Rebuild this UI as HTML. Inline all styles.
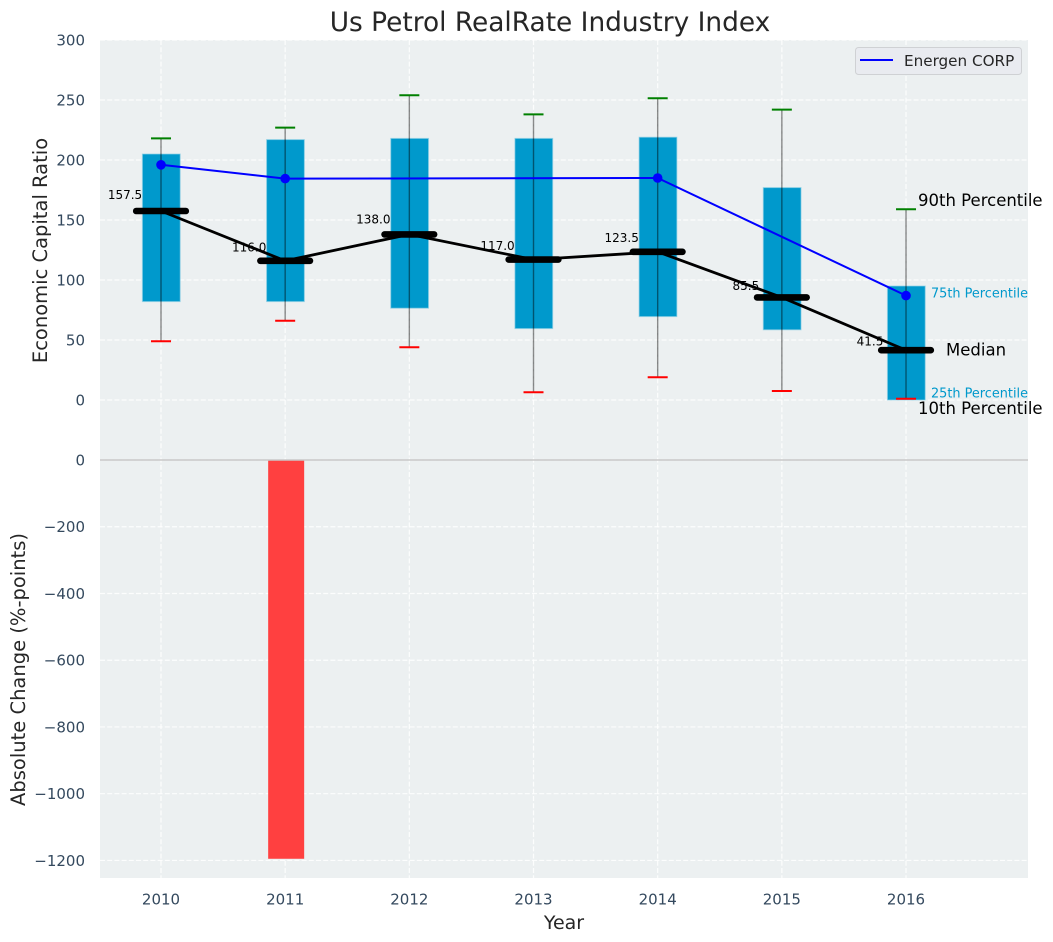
<!DOCTYPE html>
<html lang="en">
<head>
<meta charset="utf-8">
<title>Us Petrol RealRate Industry Index</title>
<style>
html,body{margin:0;padding:0;background:#fff;}
svg{display:block;font-family:"DejaVu Sans","Liberation Sans",sans-serif;}
</style>
</head>
<body>
<svg id="chart" xmlns="http://www.w3.org/2000/svg" width="1053" height="942" viewBox="0 0 1053 942">
  <rect x="100" y="40" width="928" height="838" fill="#ecf0f1"/>
  <g id="grid"></g>
  <g id="changes"></g>
  <line x1="100" x2="1028" y1="460" y2="460" stroke="#c8c8c8" stroke-width="1.5"/>
  <g id="boxes"></g>
  <g id="labels"></g>
  <g id="lines"></g>
  <g id="ticks"></g>
  <g id="notes"></g>
  <text x="550" y="31" text-anchor="middle" font-size="26.4" fill="#262626">Us Petrol RealRate Industry Index</text>
  <text x="564" y="929" text-anchor="middle" font-size="19" fill="#262626">Year</text>
  <text transform="translate(47,250.5) rotate(-90)" text-anchor="middle" font-size="19.5" fill="#262626">Economic Capital Ratio</text>
  <text transform="translate(25,669.5) rotate(-90)" text-anchor="middle" font-size="19.5" fill="#262626">Absolute Change (%-points)</text>
  <g>
    <rect x="855.5" y="47.5" width="166" height="27" rx="3" fill="#e9ebf0" stroke="#cfd1d4" stroke-width="1"/>
    <line x1="860" x2="893" y1="60" y2="60" stroke="#0000ff" stroke-width="2"/>
    <text x="904" y="66" font-size="15.2" fill="#262626">Energen CORP</text>
  </g>
</svg>
<script>
const years = [2010, 2011, 2012, 2013, 2014, 2015, 2016];
const p90 = [218, 227, 254, 238, 251.5, 242, 159];
const p75 = [205, 217, 218, 218, 219, 177, 95];
const medians = [157.5, 116, 138, 117, 123.5, 85.5, 41.5];
const p25 = [82, 82, 76.5, 59.5, 69.5, 58.5, 0];
const p10 = [49, 66, 44, 6.5, 19, 7.5, 1];
const energen = [196, 184.5, null, null, 185, null, 87];
const changes = [0, -1195, 0, 0, 0, 0, 0];
const topTicks = [0, 50, 100, 150, 200, 250, 300];
const bottomTicks = [0, -200, -400, -600, -800, -1000, -1200];

const x = function (year) { return 161 + (year - 2010) * 124.17; };
const yTop = function (v) { return 400 - v * 1.2; };
const yBottom = function (v) { return 460 - v * 0.3337; };
const NS = 'http://www.w3.org/2000/svg';

function make(parentId, tag, attrs, text) {
  const el = document.createElementNS(NS, tag);
  for (const k in attrs) el.setAttribute(k, attrs[k]);
  if (text !== undefined) el.textContent = text;
  document.getElementById(parentId).appendChild(el);
  return el;
}
function fmt(v) {
  return String(v).replace('-', '\u2212');
}
let el;

// grid
years.forEach(function (yr) {
  el = make('grid', 'line', { x1: x(yr), x2: x(yr), y1: 40, y2: 878, stroke: '#fff', 'stroke-width': 1.2, 'stroke-dasharray': '5 2.2', 'stroke-opacity': 0.85 });
  
  
});
topTicks.forEach(function (t) {
  el = make('grid', 'line', { x1: 100, x2: 1028, y1: yTop(t), y2: yTop(t), stroke: '#fff', 'stroke-width': 1.2, 'stroke-dasharray': '5 2.2', 'stroke-opacity': 0.85 });
  
  
});
bottomTicks.forEach(function (t) {
  el = make('grid', 'line', { x1: 100, x2: 1028, y1: yBottom(t), y2: yBottom(t), stroke: '#fff', 'stroke-width': 1.2, 'stroke-dasharray': '5 2.2', 'stroke-opacity': 0.85 });
  
  
});

// change bars
years.forEach(function (yr, i) {
  const y0 = yBottom(0), y1 = yBottom(changes[i]);
  el = make('changes', 'rect', { x: x(yr) - 17, y: Math.min(y0, y1), width: 36, height: Math.abs(y1 - y0), fill: '#ff4040' });
  
  
});

// boxes, whiskers and caps
years.forEach(function (yr, i) {
  const cx = x(yr);
  el = make('boxes', 'rect', { x: cx - 18.6, y: yTop(p75[i]), width: 37.8, height: yTop(p25[i]) - yTop(p75[i]), fill: '#0099cc', stroke: '#8fd0e6', 'stroke-width': 1, 'stroke-opacity': 0.7 });
  
  

  el = make('boxes', 'line', { x1: cx, x2: cx, y1: yTop(p90[i]), y2: yTop(p10[i]), stroke: '#000', 'stroke-opacity': 0.45, 'stroke-width': 1.4 });
  
  

  el = make('boxes', 'line', { x1: cx - 10, x2: cx + 10, y1: yTop(p90[i]), y2: yTop(p90[i]), stroke: '#008000', 'stroke-width': 2 });
  
  

  el = make('boxes', 'line', { x1: cx - 10, x2: cx + 10, y1: yTop(p10[i]), y2: yTop(p10[i]), stroke: '#ff0000', 'stroke-width': 2 });
  
  
});

// median labels
years.forEach(function (yr, i) {
  el = make('labels', 'text', { x: x(yr) - 36, y: yTop(medians[i] * 1.05 + 5) + 3.6, 'text-anchor': 'middle', 'font-size': 12, fill: '#000' }, medians[i].toFixed(1));
  
  
});

// median line and bars
el = make('lines', 'polyline', { points: years.map(function (yr, i) { return x(yr) + ',' + yTop(medians[i]); }).join(' '), fill: 'none', stroke: '#000', 'stroke-width': 2.8 });


years.forEach(function (yr, i) {
  el = make('lines', 'line', { x1: x(yr) - 24.8, x2: x(yr) + 24.8, y1: yTop(medians[i]), y2: yTop(medians[i]), stroke: '#000', 'stroke-width': 6.6, 'stroke-linecap': 'round' });
  
  
});

// Energen series
const energenPts = years.map(function (yr, i) { return [yr, energen[i]]; }).filter(function (p) { return p[1] !== null; });
el = make('lines', 'polyline', { points: energenPts.map(function (p) { return x(p[0]) + ',' + yTop(p[1]); }).join(' '), fill: 'none', stroke: '#0000ff', 'stroke-width': 2 });


energenPts.forEach(function (p) {
  el = make('lines', 'circle', { cx: x(p[0]), cy: yTop(p[1]), r: 4.8, fill: '#0000ff' });
  
  
});

// tick labels
years.forEach(function (yr) {
  el = make('ticks', 'text', { x: x(yr), y: 904.5, 'text-anchor': 'middle', 'font-size': 15, fill: '#34495e' }, String(yr));
  
  
});
topTicks.forEach(function (t) {
  el = make('ticks', 'text', { x: 85, y: yTop(t) + 5.5, 'text-anchor': 'end', 'font-size': 15, fill: '#34495e' }, fmt(t));
  
  
});
bottomTicks.forEach(function (t) {
  el = make('ticks', 'text', { x: 85, y: yBottom(t) + 5.5, 'text-anchor': 'end', 'font-size': 15, fill: '#34495e' }, fmt(t));
  
  
});

// annotations on the last year
const last = years.length - 1;
const lx = x(years[last]);
el = make('notes', 'text', { x: lx + 12, y: yTop(p90[last]) - 3, 'font-size': 16.5, fill: '#000' }, '90th Percentile');


el = make('notes', 'text', { x: lx + 25, y: yTop(p75[last]) + 11.5, 'font-size': 12.85, fill: '#0099cc' }, '75th Percentile');


el = make('notes', 'text', { x: lx + 40, y: yTop(medians[last]) + 5.5, 'font-size': 16.5, fill: '#000' }, 'Median');


el = make('notes', 'text', { x: lx + 25, y: yTop(p25[last]) - 2.5, 'font-size': 12.85, fill: '#0099cc' }, '25th Percentile');


el = make('notes', 'text', { x: lx + 12, y: yTop(p10[last]) + 15, 'font-size': 16.5, fill: '#000' }, '10th Percentile');


</script>
</body>
</html>
